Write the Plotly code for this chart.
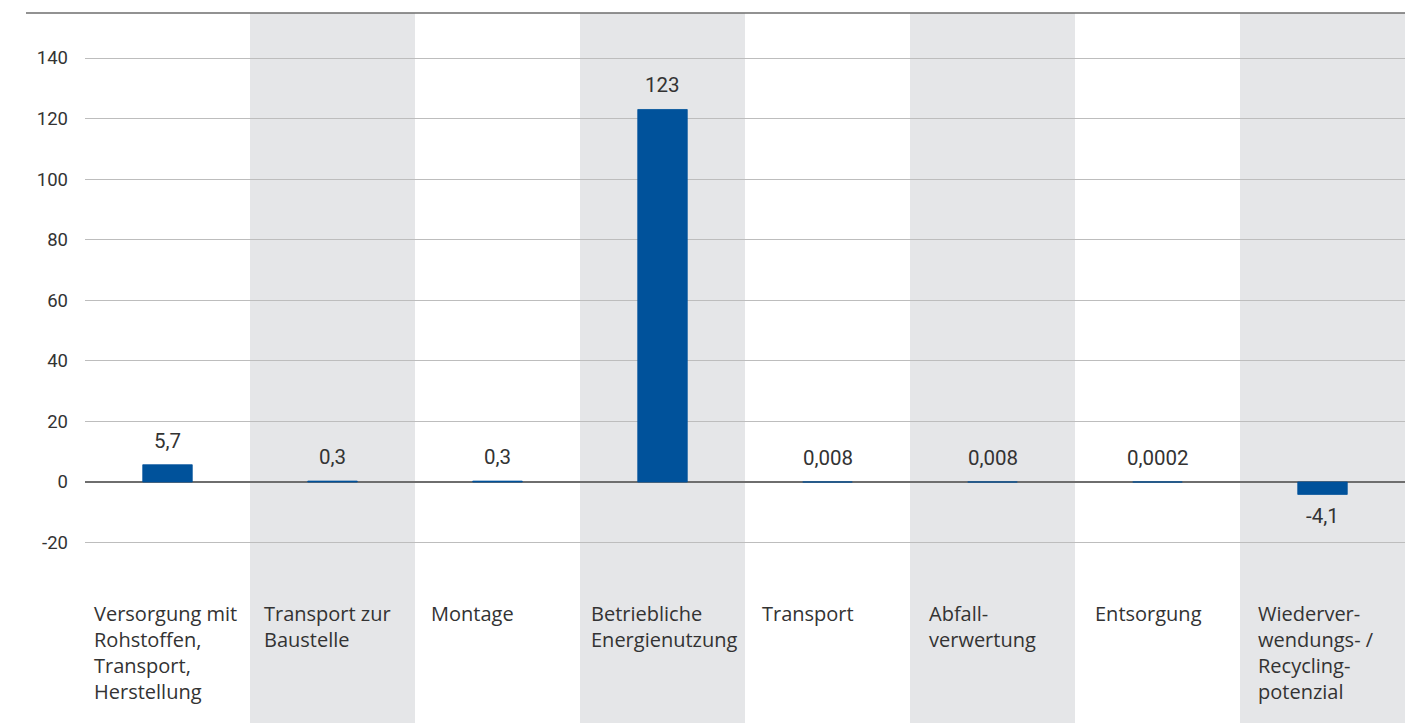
import plotly.graph_objects as go

categories = [
    "Versorgung mit<br>Rohstoffen,<br>Transport,<br>Herstellung",
    "Transport zur<br>Baustelle",
    "Montage",
    "Betriebliche<br>Energienutzung",
    "Transport",
    "Abfall-<br>verwertung",
    "Entsorgung",
    "Wiederver-<br>wendungs- /<br>Recycling-<br>potenzial",
]
values = [5.7, 0.3, 0.3, 123, 0.008, 0.008, 0.0002, -4.1]
value_labels = ["5,7", "0,3", "0,3", "123", "0,008", "0,008", "0,0002", "-4,1"]
y_ticks = [-20, 0, 20, 40, 60, 80, 100, 120, 140]

BLUE = "#00529B"
GRAY_BAND = "#E5E6E8"
TEXT = "#333333"
label_shift = [7, 12, 14, 9, 15, 17, 18, 16]

x = list(range(len(categories)))

fig = go.Figure()
fig.add_trace(go.Bar(
    x=x, y=values, width=0.3,
    marker=dict(color=BLUE, line=dict(color=BLUE, width=0.8)),
    hoverinfo="skip",
))

shapes = []
for i in x:
    if i % 2 == 1:
        shapes.append(dict(type="rect", xref="x", yref="paper", x0=i - 0.5, x1=i + 0.5,
                           y0=0, y1=1, fillcolor=GRAY_BAND, line=dict(width=0), layer="below"))
shapes.append(dict(type="line", xref="paper", yref="paper", x0=-0.0447, x1=1, y0=1, y1=1,
                   line=dict(color="#6E6E6E", width=1.5)))

annotations = []
for i, (v, t) in enumerate(zip(values, value_labels)):
    annotations.append(dict(x=i, y=v, xref="x", yref="y", text=t, showarrow=False,
                            yanchor="middle", yshift=24 if v >= 0 else -22,
                            font=dict(family="Roboto", size=20.5, color=TEXT)))
for i, c in enumerate(categories):
    annotations.append(dict(x=i - 0.5, y=-38.4, xref="x", yref="y", text=c, showarrow=False,
                            xanchor="left", yanchor="top", align="left", xshift=label_shift[i],
                            font=dict(family="Open Sans", size=20, color=TEXT)))

fig.update_layout(
    width=1407, height=715,
    margin=dict(l=77, r=10, t=5, b=0),
    paper_bgcolor="white", plot_bgcolor="white",
    showlegend=False,
    shapes=shapes,
    annotations=annotations,
    xaxis=dict(range=[-0.5, 7.5], showticklabels=False, showgrid=False, zeroline=False,
               fixedrange=True),
    yaxis=dict(range=[-79.58, 154.86], tickvals=y_ticks, ticktext=[str(v) for v in y_ticks],
               showgrid=True, gridcolor="#BDBDBD", gridwidth=1,
               zeroline=True, zerolinecolor="#6E6E6E", zerolinewidth=1.5,
               tickfont=dict(family="Roboto", size=18.5, color=TEXT),
               ticklabelstandoff=16, fixedrange=True),
)

fig.write_html("out.html")
